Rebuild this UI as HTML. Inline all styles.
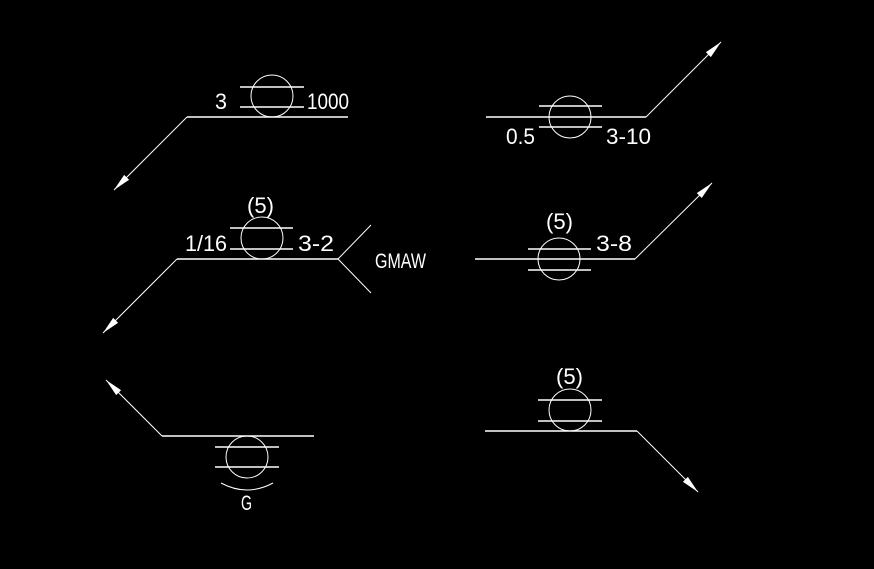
<!DOCTYPE html>
<html><head><style>html,body{margin:0;padding:0;background:#000;}svg{display:block}</style></head>
<body>
<svg width="874" height="569" viewBox="0 0 874 569" xmlns="http://www.w3.org/2000/svg">
<defs>
<marker id="a" markerUnits="userSpaceOnUse" markerWidth="20" markerHeight="10" refX="18" refY="5" orient="auto">
<path d="M0,1.5 L18,5 L0,8.5 Z" fill="#fff"/>
</marker>
</defs>
<g stroke="#fff" stroke-width="1.4" fill="none">
<line x1="187" y1="117" x2="348" y2="117"/>
<line x1="187" y1="117" x2="114" y2="190" stroke-width="1" marker-end="url(#a)"/>
<circle cx="272" cy="96" r="21" stroke-width="1"/>
<line x1="240" y1="87" x2="304" y2="87"/>
<line x1="240" y1="107" x2="304" y2="107"/>
<line x1="177" y1="259" x2="338" y2="259"/>
<line x1="177" y1="259" x2="103" y2="333" stroke-width="1" marker-end="url(#a)"/>
<line x1="338" y1="259" x2="371" y2="225" stroke-width="1"/>
<line x1="338" y1="259" x2="371" y2="293" stroke-width="1"/>
<circle cx="262" cy="238" r="21" stroke-width="1"/>
<line x1="230" y1="228" x2="293" y2="228"/>
<line x1="230" y1="249" x2="293" y2="249"/>
<line x1="162" y1="436" x2="314" y2="436"/>
<line x1="162" y1="436" x2="106" y2="380" stroke-width="1" marker-end="url(#a)"/>
<circle cx="247" cy="457" r="21" stroke-width="1"/>
<line x1="215" y1="447" x2="279" y2="447"/>
<line x1="215" y1="467" x2="279" y2="467"/>
<path d="M221,483 Q247,497 273,483" stroke-width="1"/>
<line x1="486" y1="117" x2="646" y2="117"/>
<line x1="646" y1="117" x2="721" y2="42" stroke-width="1" marker-end="url(#a)"/>
<circle cx="570" cy="117" r="21" stroke-width="1"/>
<line x1="539" y1="106" x2="602" y2="106"/>
<line x1="539" y1="127" x2="602" y2="127"/>
<line x1="475" y1="259" x2="635" y2="259"/>
<line x1="635" y1="259" x2="712" y2="183" stroke-width="1" marker-end="url(#a)"/>
<circle cx="559" cy="259" r="21" stroke-width="1"/>
<line x1="528" y1="249" x2="591" y2="249"/>
<line x1="528" y1="270" x2="591" y2="270"/>
<line x1="485" y1="431" x2="637" y2="431"/>
<line x1="637" y1="431" x2="698" y2="492" stroke-width="1" marker-end="url(#a)"/>
<circle cx="570" cy="410" r="21" stroke-width="1"/>
<line x1="538" y1="400" x2="602" y2="400"/>
<line x1="538" y1="421" x2="602" y2="421"/>
</g>
<g fill="#fff" font-family="Liberation Sans, sans-serif" font-size="22">
<text x="215" y="109" textLength="12" lengthAdjust="spacingAndGlyphs">3</text>
<text x="307" y="109" textLength="42" lengthAdjust="spacingAndGlyphs">1000</text>
<text x="247" y="213" textLength="27" lengthAdjust="spacingAndGlyphs">(5)</text>
<text x="185" y="251" textLength="42" lengthAdjust="spacingAndGlyphs">1/16</text>
<text x="298" y="251" textLength="36" lengthAdjust="spacingAndGlyphs">3-2</text>
<text x="375" y="268" font-size="21" textLength="51" lengthAdjust="spacingAndGlyphs">GMAW</text>
<text x="241" y="510" font-size="21" textLength="11" lengthAdjust="spacingAndGlyphs">G</text>
<text x="506" y="144" textLength="29" lengthAdjust="spacingAndGlyphs">0.5</text>
<text x="606" y="144" textLength="45" lengthAdjust="spacingAndGlyphs">3-10</text>
<text x="546" y="229" textLength="27" lengthAdjust="spacingAndGlyphs">(5)</text>
<text x="596" y="251" textLength="36" lengthAdjust="spacingAndGlyphs">3-8</text>
<text x="556" y="384" textLength="27" lengthAdjust="spacingAndGlyphs">(5)</text>
</g>
</svg>
</body></html>
